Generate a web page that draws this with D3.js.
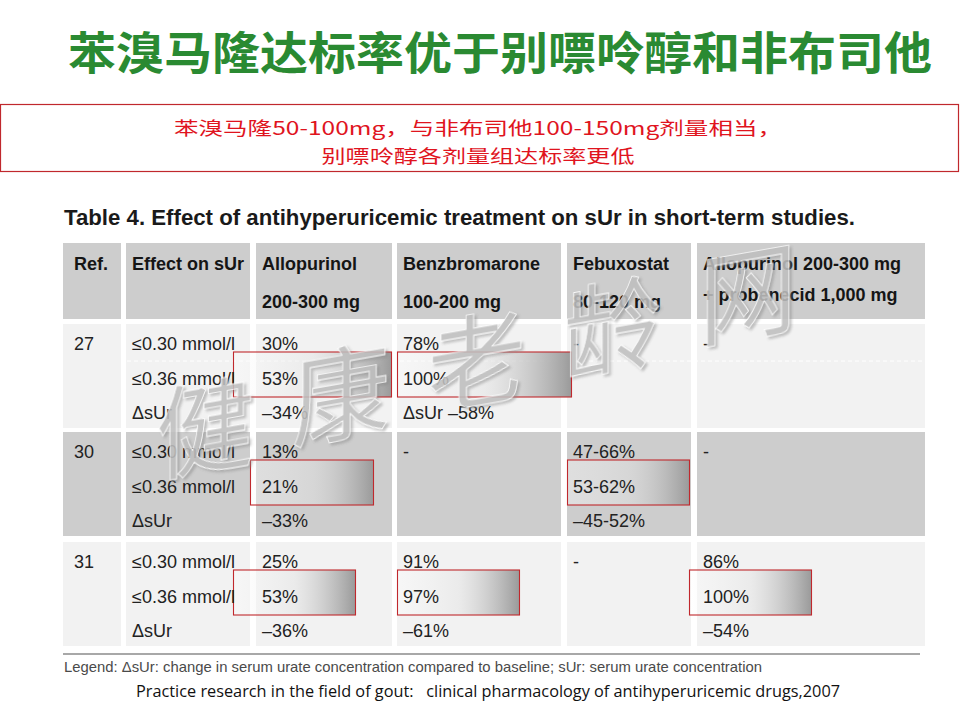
<!DOCTYPE html>
<html><head><meta charset="utf-8">
<script src="https://cdn.jsdelivr.net/npm/d3@7/dist/d3.min.js"></script>
<style>html,body{margin:0;padding:0;background:#fff;}svg{display:block;}</style>
</head><body>
<svg id="c" width="960" height="720"></svg>
<script>
// ---------- data ----------
const mainTitle = "苯溴马隆达标率优于别嘌呤醇和非布司他";
const noteLines = ["苯溴马隆50-100mg，与非布司他100-150mg剂量相当，", "别嘌呤醇各剂量组达标率更低"];
const tableTitle = "Table 4. Effect of antihyperuricemic treatment on sUr in short-term studies.";
const columnKeys = ["ref", "effect", "allo", "benz", "febu", "combo"];
const headerLines = [["Ref."], ["Effect on sUr"], ["Allopurinol", "200-300 mg"], ["Benzbromarone", "100-200 mg"], ["Febuxostat", "80-120 mg"], ["Allopurinol 200-300 mg", "+ probenecid 1,000 mg"]];
const refs = ["27", "30", "31"];
const effectLabels = ["≤0.30 mmol/l", "≤0.36 mmol/l", "ΔsUr"];
const allopurinol = [["30%", "53%", "–34%"], ["13%", "21%", "–33%"], ["25%", "53%", "–36%"]];
const benzbromarone = [["78%", "100%", "ΔsUr –58%"], ["-"], ["91%", "97%", "–61%"]];
const febuxostat = [["-"], ["47-66%", "53-62%", "–45-52%"], ["-"]];
const combination = [["-"], ["-"], ["86%", "100%", "–54%"]];
const highlights = [[0, "allo"], [0, "benz"], [1, "allo"], [1, "febu"], [2, "allo"], [2, "benz"], [2, "combo"]];
const legendText = "Legend: ΔsUr: change in serum urate concentration compared to baseline; sUr: serum urate concentration";
const citation = "Practice research in the field of gout:   clinical pharmacology of antihyperuricemic drugs,2007";
const watermark = ["健", "康", "老", "龄", "网"];

// ---------- layout ----------
const svg = d3.select("#c");
const defs = svg.append("defs");
const g = defs.append("linearGradient").attr("id", "hl").attr("x1", "0").attr("x2", "1").attr("y1", "0").attr("y2", "0");
g.append("stop").attr("offset", "0%").attr("stop-color", "#ffffff").attr("stop-opacity", 0.35);
g.append("stop").attr("offset", "50%").attr("stop-color", "#e2e2e2").attr("stop-opacity", 0.45);
g.append("stop").attr("offset", "100%").attr("stop-color", "#9a9a9a").attr("stop-opacity", 1);
const f = defs.append("filter").attr("id", "sh").attr("x", "-20%").attr("y", "-20%").attr("width", "150%").attr("height", "150%");
f.append("feDropShadow").attr("dx", 2.5).attr("dy", 2.5).attr("stdDeviation", 1).attr("flood-color", "#888").attr("flood-opacity", 0.55);

const colX = d3.scaleOrdinal().domain(columnKeys).range([63, 126, 256, 397, 567, 697]);
const colW = d3.scaleOrdinal().domain(columnKeys).range([58, 124, 136, 164, 124, 228]);
const colPad = d3.scaleOrdinal().domain(columnKeys).range([11, 6, 6, 6, 6, 6]);
const rowY = d3.scaleOrdinal().domain(d3.range(3)).range([324, 432, 542]);
const rowH = 104;
const rowFill = d3.scaleOrdinal().domain(d3.range(3)).range(["#f2f2f2", "#cdcdcd", "#f2f2f2"]);
const lineY = d3.scaleLinear().domain([0, 2]).range([26, 95]);
const SANS = "'Liberation Sans', Arial, sans-serif";
const CJK = "'Noto Sans CJK SC', sans-serif";

// title
svg.append("text").attr("x", 500).attr("y", 50).attr("text-anchor", "middle").attr("dominant-baseline", "central")
  .attr("font-family", CJK).attr("font-weight", 700).attr("font-size", 45).attr("fill", "#2a8a32")
  .attr("textLength", 864).attr("lengthAdjust", "spacingAndGlyphs").text(mainTitle);

// note box
svg.append("rect").attr("x", 0.5).attr("y", 104.5).attr("width", 958).attr("height", 67).attr("fill", "none").attr("stroke", "#c0282d").attr("stroke-width", 1.2);
const noteW = [608, 313];
svg.selectAll("text.note").data(noteLines).join("text").attr("class", "note")
  .attr("x", 478).attr("y", (d, i) => 127 + i * 28).attr("text-anchor", "middle").attr("dominant-baseline", "central")
  .attr("font-family", CJK).attr("font-size", 18.5).attr("fill", "#e0141e")
  .attr("textLength", (d, i) => noteW[i]).attr("lengthAdjust", "spacingAndGlyphs").text(d => d);

// table title
svg.append("text").attr("x", 64).attr("y", 225).attr("font-family", SANS).attr("font-weight", 700).attr("font-size", 21.5)
  .attr("fill", "#1a1a1a").attr("textLength", 791).attr("lengthAdjust", "spacingAndGlyphs").text(tableTitle);

// header
const hdr = svg.append("g");
hdr.selectAll("rect").data(columnKeys).join("rect")
  .attr("x", d => colX(d)).attr("y", 243).attr("width", d => colW(d)).attr("height", 76).attr("fill", "#cdcdcd");
columnKeys.forEach((k, ci) => {
  const isCombo = k === "combo";
  hdr.selectAll("text.h" + ci).data(headerLines[ci]).join("text").attr("class", "h" + ci)
    .attr("x", colX(k) + colPad(k)).attr("y", (d, i) => i === 0 ? 270 : (isCombo ? 300.5 : 308))
    .attr("font-family", SANS).attr("font-weight", 700).attr("font-size", 18).attr("fill", "#151515").text(d => d);
});

// body cells
const cellsByCol = {
  ref: refs.map(r => [r]),
  effect: refs.map(() => effectLabels),
  allo: allopurinol, benz: benzbromarone, febu: febuxostat, combo: combination
};
const body = svg.append("g");
d3.range(3).forEach(ri => {
  body.selectAll("rect.r" + ri).data(columnKeys).join("rect").attr("class", "r" + ri)
    .attr("x", d => colX(d)).attr("y", rowY(ri)).attr("width", d => colW(d)).attr("height", rowH).attr("fill", rowFill(ri));
});
// dashed white separator in first row
svg.append("line").attr("x1", 127).attr("x2", 925).attr("y1", 361).attr("y2", 361)
  .attr("stroke", "#ffffff").attr("stroke-width", 1).attr("stroke-dasharray", "4,3");

// highlight boxes (behind text)
const hlExt = {allo: [-23, 0], benz: [0, 10], febu: [0, 0], combo: [-8, -8]};
const hlG = svg.append("g");
hlG.selectAll("rect").data(highlights).join("rect")
  .attr("x", d => colX(d[1]) + (d[0] === 1 && d[1] === "allo" ? -6 : hlExt[d[1]][0]) + 0.5)
  .attr("y", d => rowY(d[0]) + lineY(1) - 33 + 0.5)
  .attr("width", d => {
    if (d[1] === "allo") return d[0] === 0 ? 158 : (d[0] === 1 ? 123 : 122);
    if (d[1] === "benz") return d[0] === 0 ? 174 : 122;
    return 122;
  })
  .attr("height", 45)
  .attr("fill", "url(#hl)").attr("stroke", "#c0282d").attr("stroke-width", 1.1);

const txt = svg.append("g");
columnKeys.forEach(k => {
  cellsByCol[k].forEach((lines, ri) => {
    txt.selectAll("text.t" + k + ri).data(lines).join("text").attr("class", "t" + k + ri)
      .attr("x", colX(k) + colPad(k)).attr("y", (d, i) => rowY(ri) + lineY(i))
      .attr("font-family", SANS).attr("font-size", 18).attr("fill", "#222").text(d => d);
  });
});

// bottom rule, legend, citation
svg.append("line").attr("x1", 63).attr("x2", 920).attr("y1", 654).attr("y2", 654).attr("stroke", "#a8a8a8").attr("stroke-width", 2);
svg.append("text").attr("x", 64).attr("y", 672).attr("font-family", SANS).attr("font-size", 14.5).attr("fill", "#4a4a4a")
  .attr("textLength", 698).attr("lengthAdjust", "spacingAndGlyphs").text(legendText);
svg.append("text").attr("x", 136).attr("y", 697).attr("font-family", "'Open Sans', sans-serif").attr("font-size", 16).attr("fill", "#111")
  .attr("textLength", 704).attr("lengthAdjust", "spacingAndGlyphs").attr("xml:space", "preserve").style("white-space", "pre").text(citation);

// watermark
const wx = d3.scaleLinear().domain([0, 4]).range([205, 748]);
const wy = d3.scaleLinear().domain([0, 4]).range([422, 288]);
svg.append("g").attr("opacity", 0.88).selectAll("text").data(watermark).join("text")
  .attr("transform", (d, i) => `translate(${wx(i)},${wy(i)}) rotate(-10) skewX(-10)`)
  .attr("text-anchor", "middle").attr("dominant-baseline", "central")
  .attr("font-family", CJK).attr("font-weight", 400).attr("font-size", 100)
  .attr("fill", "#bfbfbf").attr("stroke", "#ffffff").attr("stroke-width", 0.8).attr("filter", "url(#sh)").text(d => d);
</script>
</body></html>
